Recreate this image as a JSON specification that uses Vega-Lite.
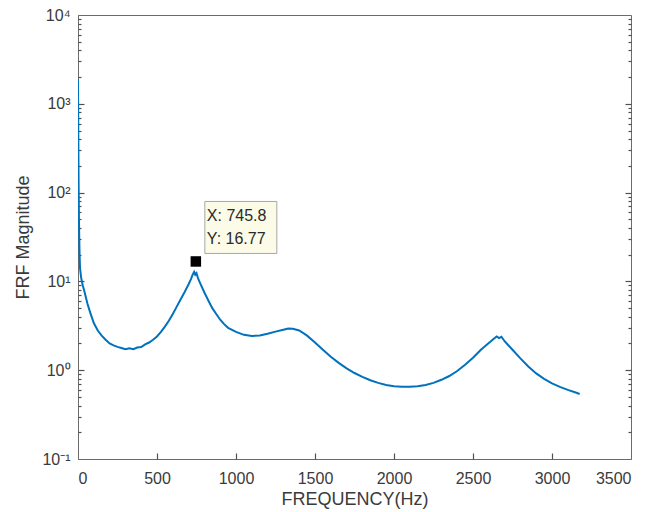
{
  "$schema": "https://vega.github.io/schema/vega-lite/v6.json",
  "width": 553,
  "height": 444,
  "autosize": {"type": "none"},
  "padding": {"left": 78, "top": 15, "right": 31, "bottom": 53},
  "background": "white",
  "config": {
    "view": {"stroke": "#6b6b6b", "strokeWidth": 1},
    "font": "Liberation Sans",
    "axis": {"labelFont": "Liberation Sans", "titleFont": "Liberation Sans", "grid": false}
  },
  "datasets": {
    "curve": [
      {"f": 0, "m": 1900}, {"f": 2, "m": 420}, {"f": 4, "m": 120}, {"f": 6, "m": 50},
      {"f": 8, "m": 30}, {"f": 10, "m": 20}, {"f": 13, "m": 14}, {"f": 20, "m": 11},
      {"f": 30, "m": 9}, {"f": 40, "m": 7.8}, {"f": 50, "m": 6.6}, {"f": 60, "m": 5.6},
      {"f": 70, "m": 4.9}, {"f": 80, "m": 4.3}, {"f": 100, "m": 3.4}, {"f": 125, "m": 2.8},
      {"f": 150, "m": 2.45}, {"f": 175, "m": 2.2}, {"f": 200, "m": 2.0}, {"f": 225, "m": 1.9},
      {"f": 250, "m": 1.83}, {"f": 275, "m": 1.78}, {"f": 300, "m": 1.72}, {"f": 325, "m": 1.76},
      {"f": 350, "m": 1.72}, {"f": 375, "m": 1.8}, {"f": 400, "m": 1.82}, {"f": 425, "m": 1.95},
      {"f": 450, "m": 2.05}, {"f": 475, "m": 2.2}, {"f": 500, "m": 2.4}, {"f": 525, "m": 2.7},
      {"f": 550, "m": 3.1}, {"f": 575, "m": 3.6}, {"f": 600, "m": 4.3}, {"f": 625, "m": 5.2},
      {"f": 650, "m": 6.3}, {"f": 675, "m": 7.6}, {"f": 700, "m": 9.3}, {"f": 715, "m": 10.6},
      {"f": 725, "m": 11.8}, {"f": 735, "m": 12.8}, {"f": 742, "m": 11.9}, {"f": 750, "m": 12.4},
      {"f": 760, "m": 10.8}, {"f": 775, "m": 9.4}, {"f": 800, "m": 7.5}, {"f": 825, "m": 6.1},
      {"f": 850, "m": 5.0}, {"f": 875, "m": 4.3}, {"f": 900, "m": 3.7}, {"f": 925, "m": 3.3},
      {"f": 950, "m": 3.0}, {"f": 1000, "m": 2.7}, {"f": 1050, "m": 2.5}, {"f": 1100, "m": 2.43},
      {"f": 1150, "m": 2.46}, {"f": 1200, "m": 2.57}, {"f": 1250, "m": 2.72}, {"f": 1300, "m": 2.86},
      {"f": 1330, "m": 2.95}, {"f": 1360, "m": 2.93}, {"f": 1400, "m": 2.8}, {"f": 1450, "m": 2.45},
      {"f": 1500, "m": 2.05}, {"f": 1550, "m": 1.7}, {"f": 1600, "m": 1.42}, {"f": 1650, "m": 1.21},
      {"f": 1700, "m": 1.05}, {"f": 1750, "m": 0.93}, {"f": 1800, "m": 0.84}, {"f": 1850, "m": 0.77},
      {"f": 1900, "m": 0.72}, {"f": 1950, "m": 0.68}, {"f": 2000, "m": 0.66}, {"f": 2050, "m": 0.65},
      {"f": 2100, "m": 0.65}, {"f": 2150, "m": 0.66}, {"f": 2200, "m": 0.68}, {"f": 2250, "m": 0.72},
      {"f": 2300, "m": 0.78}, {"f": 2350, "m": 0.86}, {"f": 2400, "m": 0.98}, {"f": 2450, "m": 1.15},
      {"f": 2500, "m": 1.38}, {"f": 2550, "m": 1.7}, {"f": 2600, "m": 2.02}, {"f": 2630, "m": 2.25},
      {"f": 2650, "m": 2.4}, {"f": 2665, "m": 2.3}, {"f": 2680, "m": 2.38}, {"f": 2700, "m": 2.12},
      {"f": 2725, "m": 1.9}, {"f": 2750, "m": 1.7}, {"f": 2800, "m": 1.36}, {"f": 2850, "m": 1.1},
      {"f": 2900, "m": 0.92}, {"f": 2950, "m": 0.8}, {"f": 3000, "m": 0.71}, {"f": 3050, "m": 0.65},
      {"f": 3100, "m": 0.6}, {"f": 3150, "m": 0.56}, {"f": 3175, "m": 0.54}
    ],
    "tip": [
      {"f": 745.8, "m": 16.77, "label": "X: 745.8\nY: 16.77"}
    ]
  },
  "resolve": {"axis": {"x": "independent", "y": "independent"}},
  "layer": [
    {
      "data": {"name": "curve"},
      "mark": {"type": "line", "color": "#0072BD", "strokeWidth": 2, "clip": true},
      "encoding": {
        "x": {
          "field": "f", "type": "quantitative",
          "scale": {"domain": [0, 3500], "nice": false, "zero": false},
          "axis": {
            "orient": "bottom", "title": "FREQUENCY(Hz)", "values": [0, 500, 1000, 1500, 2000, 2500, 3000, 3500],
            "format": "d", "domainColor": "#6b6b6b", "ticks": false, "tickSize": 0,
            "labelPadding": 11, "labelFontSize": 16, "labelColor": "#3a3a3a",
            "titleFontSize": 18, "titleFontWeight": "normal", "titleColor": "#3a3a3a", "titlePadding": 4
          }
        },
        "y": {
          "field": "m", "type": "quantitative",
          "scale": {"type": "log", "domain": [0.1, 10000], "nice": false},
          "axis": {
            "orient": "left", "title": "FRF Magnitude",
            "values": [0.1, 1, 10, 100, 1000, 10000],
            "labelExpr": "datum.value == 10000 ? '10⁴' : datum.value == 1000 ? '10³' : datum.value == 100 ? '10²' : datum.value == 10 ? '10¹' : datum.value == 1 ? '10⁰' : '10⁻¹'",
            "domainColor": "#6b6b6b", "ticks": false, "tickSize": 0,
            "labelPadding": 8, "labelFontSize": 16, "labelColor": "#3a3a3a",
            "titleFontSize": 18, "titleFontWeight": "normal", "titleColor": "#3a3a3a", "titlePadding": 9
          }
        }
      }
    },
    {
      "data": {"name": "tip"},
      "mark": {"type": "point", "shape": "square", "filled": true, "color": "black", "size": 110, "opacity": 1},
      "encoding": {
        "x": {"field": "f", "type": "quantitative", "scale": {"domain": [0, 3500], "nice": false, "zero": false},
          "axis": {"orient": "top", "offset": -444, "labels": false, "title": null, "domain": false, "values": [500, 1000, 1500, 2000, 2500, 3000], "ticks": true, "tickSize": 6, "tickWidth": 1.2, "tickColor": "#505050"}},
        "y": {"field": "m", "type": "quantitative", "scale": {"type": "log", "domain": [0.1, 10000], "nice": false},
          "axis": {"orient": "right", "offset": -553, "labels": false, "title": null, "domain": false,
            "values": [0.2,0.3,0.4,0.5,0.6,0.7,0.8,0.9,1,2,3,4,5,6,7,8,9,10,20,30,40,50,60,70,80,90,100,200,300,400,500,600,700,800,900,1000,2000,3000,4000,5000,6000,7000,8000,9000],
            "ticks": true,
            "tickSize": {"condition": {"test": "indexof([1,10,100,1000], datum.value) >= 0", "value": 6}, "value": 3},
            "tickWidth": 1.2, "tickColor": "#505050"}}
      }
    },
    {
      "data": {"name": "tip"},
      "mark": {"type": "point", "shape": "M 9 -60 H 81 V -8 H 9 Z", "size": 4, "filled": true, "fill": "#FBFBE8", "stroke": "#a8a8a8", "strokeWidth": 1, "opacity": 1},
      "encoding": {
        "x": {"field": "f", "type": "quantitative", "axis": null},
        "y": {"field": "m", "type": "quantitative",
          "axis": {"orient": "left", "offset": -553, "labels": false, "title": null, "domain": false,
            "values": [0.2,0.3,0.4,0.5,0.6,0.7,0.8,0.9,1,2,3,4,5,6,7,8,9,10,20,30,40,50,60,70,80,90,100,200,300,400,500,600,700,800,900,1000,2000,3000,4000,5000,6000,7000,8000,9000],
            "ticks": true,
            "tickSize": {"condition": {"test": "indexof([1,10,100,1000], datum.value) >= 0", "value": 6}, "value": 3},
            "tickWidth": 1.2, "tickColor": "#505050"}}
      }
    },
    {
      "data": {"name": "tip"},
      "mark": {"type": "text", "align": "left", "baseline": "alphabetic", "dx": 11, "dy": -40, "fontSize": 16, "lineBreak": "\n", "lineHeight": 23, "color": "#2a2a2a", "font": "Liberation Sans"},
      "encoding": {
        "x": {"field": "f", "type": "quantitative", "axis": null},
        "y": {"field": "m", "type": "quantitative", "axis": null},
        "text": {"field": "label"}
      }
    }
  ]
}
